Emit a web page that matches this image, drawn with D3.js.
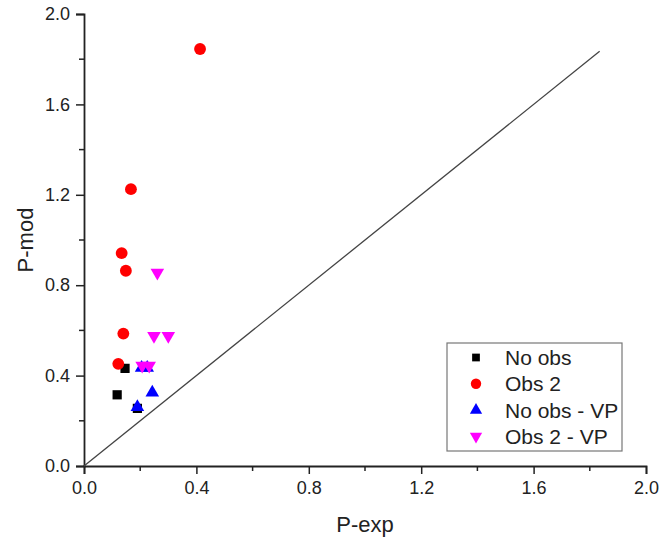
<!DOCTYPE html>
<html lang="en">
<head>
<meta charset="utf-8" />
<script src="https://d3js.org/d3.v7.min.js"></script>
<style>
  body { margin: 0; background: #fff; }
  svg text { font-family: "Liberation Sans", Arial, sans-serif; fill: #222; }
</style>
</head>
<body>
<div id="chart"></div>
<script>
// series: [P-exp, P-mod]
const noObs = [[0.146, 0.432], [0.118, 0.315], [0.19, 0.255]];
const obs2 = [[0.413, 1.845], [0.167, 1.225], [0.134, 0.942], [0.149, 0.864], [0.14, 0.586], [0.122, 0.452]];
const noObsVP = [[0.205, 0.43], [0.225, 0.43], [0.243, 0.32], [0.19, 0.256]];
const obs2VP = [[0.261, 0.86], [0.249, 0.58], [0.30, 0.58], [0.207, 0.448], [0.232, 0.448]];
const refLine = [0, 1.835];
const majorTicks = [0, 0.4, 0.8, 1.2, 1.6, 2.0];
const minorTicks = [0.2, 0.6, 1.0, 1.4, 1.8];
const seriesNames = ['No obs', 'Obs 2', 'No obs - VP', 'Obs 2 - VP'];

const width = 663, height = 540;
const margin = { left: 84, right: 17, top: 14, bottom: 74 };

const svg = d3.select('#chart').append('svg')
  .attr('width', width)
  .attr('height', height);

const x = d3.scaleLinear().domain([0, 2]).range([margin.left, width - margin.right]);
const y = d3.scaleLinear().domain([0, 2]).range([height - margin.bottom, margin.top]);

// axes
const xAxis = d3.axisBottom(x).tickValues(majorTicks).tickFormat(d3.format('.1f')).tickSize(8).tickPadding(7);
const yAxis = d3.axisLeft(y).tickValues(majorTicks).tickFormat(d3.format('.1f')).tickSize(8).tickPadding(6);

const gx = svg.append('g').attr('transform', `translate(0,${y(0)})`).call(xAxis);
gx.selectAll('.tick').filter(d => d === 0).select('text').attr('dx', 0);
gx.append('g').selectAll('line').data(minorTicks).join('line')
  .attr('x1', d => x(d)).attr('x2', d => x(d)).attr('y1', 0).attr('y2', 5)
  .attr('stroke', '#222').attr('stroke-width', 1.5);

const gy = svg.append('g').attr('transform', `translate(${x(0)},0)`).call(yAxis);
gy.append('g').selectAll('line').data(minorTicks).join('line')
  .attr('y1', d => y(d)).attr('y2', d => y(d)).attr('x1', 0).attr('x2', -5)
  .attr('stroke', '#222').attr('stroke-width', 1.5);

[gx, gy].forEach(g => {
  g.select('.domain').attr('stroke', '#222').attr('stroke-width', 1.8);
  g.selectAll('.tick line').attr('stroke', '#222').attr('stroke-width', 1.5);
  g.selectAll('.tick text').style('font-size', '18px').attr('fill', '#222');
});

// axis titles
svg.append('text')
  .attr('x', (x(0) + x(2)) / 2).attr('y', 532)
  .attr('text-anchor', 'middle')
  .style('font-size', '22px')
  .text('P-exp');

svg.append('text')
  .attr('transform', `translate(33,${(y(0) + y(2)) / 2}) rotate(-90)`)
  .attr('text-anchor', 'middle')
  .style('font-size', '22px')
  .text('P-mod');

// reference line y = x
svg.append('line')
  .attr('x1', x(refLine[0])).attr('y1', y(refLine[0]))
  .attr('x2', x(refLine[1])).attr('y2', y(refLine[1]))
  .attr('stroke', '#444').attr('stroke-width', 1.3);

// markers
const sq = d3.symbol().type(d3.symbolSquare).size(85);
const circ = d3.symbol().type(d3.symbolCircle).size(110);
const tri = d3.symbol().type(d3.symbolTriangle).size(80);

const plot = svg.append('g');
plot.selectAll('.s0').data(noObs).join('path')
  .attr('d', sq).attr('fill', '#000')
  .attr('transform', d => `translate(${x(d[0])},${y(d[1])})`);
plot.selectAll('.s1').data(obs2).join('path')
  .attr('d', circ).attr('fill', '#ff0000')
  .attr('transform', d => `translate(${x(d[0])},${y(d[1])})`);
plot.selectAll('.s2').data(noObsVP).join('path')
  .attr('d', tri).attr('fill', '#0000ff')
  .attr('transform', d => `translate(${x(d[0])},${y(d[1]) - 1})`);
plot.selectAll('.s3').data(obs2VP).join('path')
  .attr('d', tri).attr('fill', '#ff00ff')
  .attr('transform', d => `translate(${x(d[0])},${y(d[1]) + 1}) rotate(180)`);

// legend
const legend = svg.append('g').attr('transform', 'translate(447,343)');
legend.append('rect')
  .attr('width', 175).attr('height', 108)
  .attr('fill', '#fff').attr('stroke', '#777').attr('stroke-width', 1.2);

const shapes = [
  { d: d3.symbol().type(d3.symbolSquare).size(60)(), fill: '#000', rot: 0 },
  { d: d3.symbol().type(d3.symbolCircle).size(85)(), fill: '#ff0000', rot: 0 },
  { d: d3.symbol().type(d3.symbolTriangle).size(65)(), fill: '#0000ff', rot: 0 },
  { d: d3.symbol().type(d3.symbolTriangle).size(65)(), fill: '#ff00ff', rot: 180 }
];
const items = legend.selectAll('.item').data(seriesNames).join('g')
  .attr('transform', (d, i) => `translate(0,${14.5 + i * 26.3})`);
items.append('path')
  .attr('d', (d, i) => shapes[i].d)
  .attr('fill', (d, i) => shapes[i].fill)
  .attr('transform', (d, i) => `translate(29,0) rotate(${shapes[i].rot})`);
items.append('text')
  .attr('x', 58).attr('y', 7.5)
  .style('font-size', '21px')
  .text(d => d);
</script>
</body>
</html>
